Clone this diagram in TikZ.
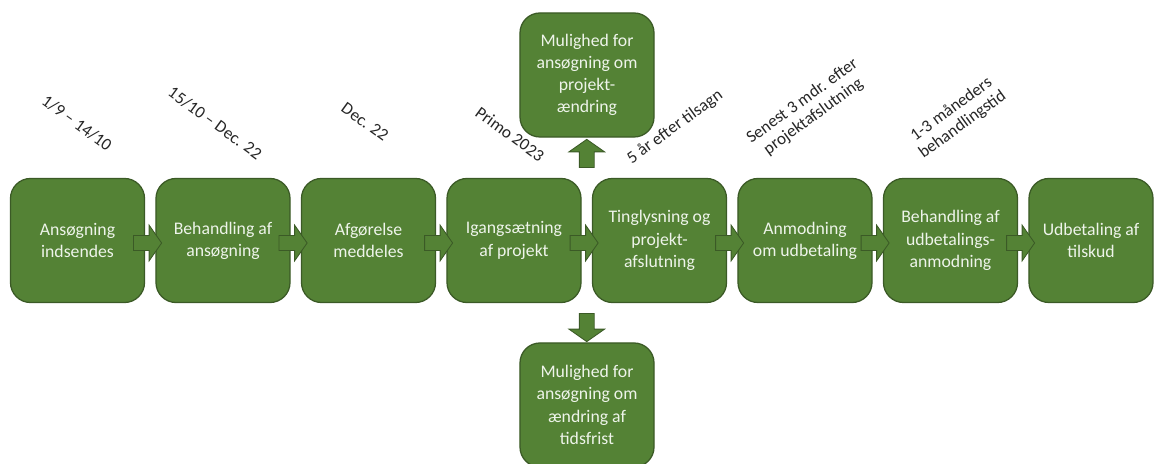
\documentclass[tikz,border=0pt]{standalone}
\usepackage{fontspec}
\setmainfont{Carlito}
\usepackage{tikz}
\usetikzlibrary{shapes.arrows, calc}
\definecolor{boxgreen}{HTML}{548235}
\definecolor{boxline}{HTML}{3B5A26}
\definecolor{boxtext}{HTML}{EEF4EA}

\begin{document}
\begin{tikzpicture}[x=0.025cm, y=0.025cm,
            stepbox/.style={draw=boxline, line width=0.9pt, fill=boxgreen, rounded corners=0.5cm,
              minimum width=3.35cm, minimum height=3.1cm, align=center, text=boxtext,
              font=\fontsize{12.6}{15.8}\selectfont, inner sep=2pt},
            blockarrow/.style={single arrow, draw=boxline, line width=0.6pt, fill=boxgreen,
              inner xsep=0.275cm, inner ysep=0.175cm, single arrow head extend=0.26cm,
              single arrow tip angle=110, anchor=tail},
            datelbl/.style={align=center, inner sep=1pt, font=\fontsize{12.2}{13.5}\selectfont, text=black!85}]
            \useasboundingbox (0,0) rectangle (1156,-464);

            % main row
            \node[stepbox] (s1) at (77.5,-240.5) {Ansøgning\\indsendes};
            \node[stepbox] (s2) at (223,-240.5) {Behandling af\\ansøgning};
            \node[stepbox] (s3) at (368.5,-240.5) {Afgørelse\\meddeles};
            \node[stepbox] (s4) at (514,-240.5) {Igangsætning\\af projekt};
            \node[stepbox] (s5) at (659.5,-240.5) {Tinglysning og\\projekt-\\afslutning};
            \node[stepbox] (s6) at (805,-240.5) {Anmodning\\om udbetaling};
            \node[stepbox] (s7) at (950.5,-240.5) {Behandling af\\udbetalings-\\anmodning};
            \node[stepbox, minimum width=3.1cm] (s8) at (1091,-240.5) {Udbetaling af\\tilskud};

            % side boxes
            \node[stepbox] (top) at (587,-75) {Mulighed for\\ansøgning om\\projekt-\\ændring};
            \node[stepbox] (bottom) at (587,-405) {Mulighed for\\ansøgning om\\ændring af\\tidsfrist};

            % arrows
            \node[blockarrow] (a12) at ($(s1.east)+(-12,-2.5)$) {};
            \node[blockarrow] (a23) at ($(s2.east)+(-12,-2.5)$) {};
            \node[blockarrow] (a34) at ($(s3.east)+(-12,-2.5)$) {};
            \node[blockarrow] (a45) at ($(s4.east)+(-12,-2.5)$) {};
            \node[blockarrow] (a56) at ($(s5.east)+(-12,-2.5)$) {};
            \node[blockarrow] (a67) at ($(s6.east)+(-12,-2.5)$) {};
            \node[blockarrow] (a78) at ($(s7.east)+(-12,-2.5)$) {};
            \node[blockarrow, rotate=90] (aup) at ($(s4.north east)!0.5!(s5.north west)+(0,10)$) {};
            \node[blockarrow, rotate=-90] (adown) at ($(s4.south east)!0.5!(s5.south west)+(0,-10)$) {};

            % dates
            \node[datelbl, rotate=-36] (d1) at (77,-123) {1/9 – 14/10};
            \node[datelbl, rotate=-36] (d2) at (215,-123) {15/10 – Dec. 22};
            \node[datelbl, rotate=-36] (d3) at (365,-122) {Dec. 22};
            \node[datelbl, rotate=-36] (d4) at (510,-134) {Primo 2023};
            \node[datelbl, rotate=36] (d5) at (675,-127) {5 år efter tilsagn};
            \node[datelbl, rotate=36] (d6) at (808,-109) {Senest 3 mdr. efter\\projektafslutning};
            \node[datelbl, rotate=36] (d7) at (957,-117) {1-3 måneders\\behandlingstid};
        \end{tikzpicture}
\end{document}
